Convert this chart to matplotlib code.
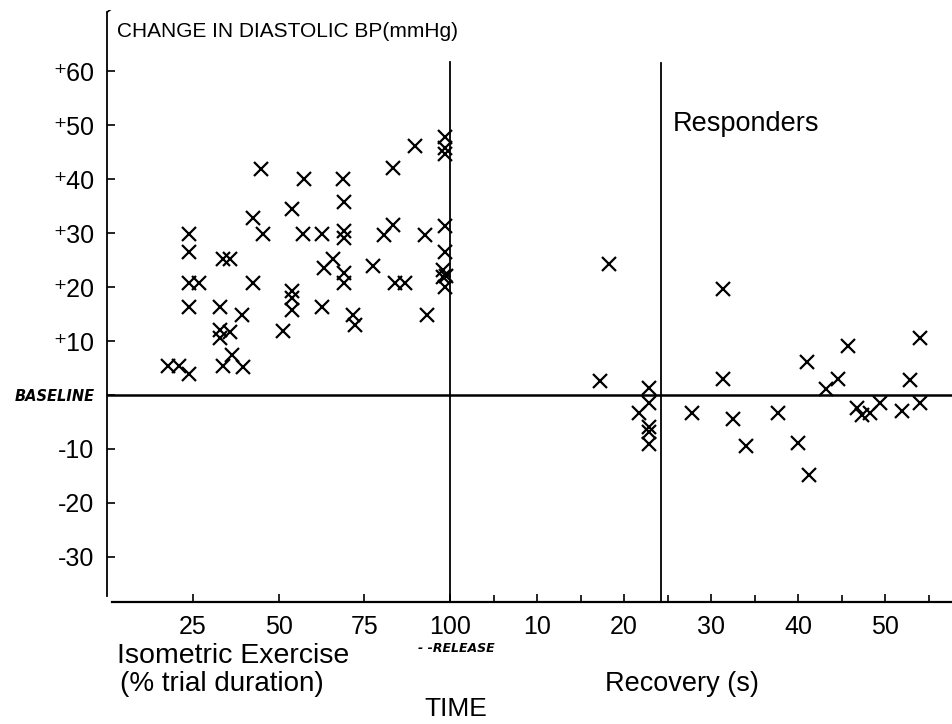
import numpy as np
import matplotlib
matplotlib.use("Agg")
import matplotlib.pyplot as plt

# change in diastolic BP (mmHg) during the isometric grip, x = % of trial duration
exercise_pct = [17.9, 21.0, 24.0, 24.0, 24.0, 24.0, 26.9, 24.0, 33.7, 35.9,
                32.9, 33.0, 33.0, 35.9, 36.4, 33.7, 39.5, 39.3, 42.5, 42.7,
                45.4, 44.8, 51.2, 54.0, 54.0, 54.0, 54.0, 57.5, 57.2, 62.8,
                62.8, 63.3, 65.8, 68.9, 69.1, 69.0, 69.0, 69.0, 69.0, 71.8,
                72.3, 77.6, 80.8, 83.5, 83.3, 84.0, 86.9, 89.8, 92.7, 93.2,
                98.5, 98.5, 98.5, 98.5, 98.5, 98.0, 98.0, 98.7, 98.5]
exercise_bp = [5.4, 5.4, 3.9, 29.9, 26.6, 20.7, 20.7, 16.4, 25.2, 25.2,
               16.4, 12.1, 10.5, 11.7, 7.4, 5.4, 5.1, 14.8, 20.8, 32.8,
               29.9, 41.9, 11.9, 34.5, 19.2, 17.9, 15.8, 40.0, 29.9, 29.9,
               16.4, 23.5, 25.2, 40.0, 35.7, 30.5, 29.1, 22.6, 20.8, 14.8,
               13.0, 23.9, 29.7, 31.5, 42.1, 20.8, 20.8, 46.2, 29.7, 14.8,
               47.9, 45.8, 44.7, 31.4, 26.6, 23.1, 21.9, 22.0, 20.0]

# change in diastolic BP (mmHg) after release, x = seconds of recovery
recovery_s = [17.2, 18.3, 21.7, 22.9, 22.9, 22.9, 22.9, 22.9, 27.8, 31.4,
              31.4, 32.5, 34.0, 37.7, 40.0, 41.0, 41.2, 43.2, 44.6, 45.7,
              46.8, 47.3, 48.3, 49.4, 52.0, 52.9, 54.0, 54.0]
recovery_bp = [2.5, 24.3, -3.3, 1.2, -1.5, -5.9, -6.8, -9.1, -3.3, 19.6,
               2.9, -4.5, -9.5, -3.3, -9.0, 6.2, -14.8, 1.1, 2.9, 9.1,
               -2.5, -3.7, -3.3, -1.5, -2.9, 2.8, 10.5, -1.4]

y_ticks = [60, 50, 40, 30, 20, 10, 0, -10, -20, -30]
y_labels = ["⁺60", "⁺50", "⁺40", "⁺30", "⁺20", "⁺10", "BASELINE", "-10", "-20", "-30"]
pct_ticks = [25, 50, 75, 100]
rec_ticks = [10, 20, 30, 40, 50]
responder_cut = 24.3   # seconds

# recovery seconds are squeezed onto the same axis after the 100% mark
SEC = 2.536
def rec_pos(s):
    return 100 + np.asarray(s, dtype=float) * SEC

plt.rcParams["font.family"] = ["Liberation Sans", "DejaVu Sans"]

fig = plt.figure(figsize=(9.53, 7.24), dpi=100)
ax = fig.add_axes([107 / 953, 122 / 724, 846 / 953, 592 / 724])
ax.set_xlim(0, 246.6)
ax.set_ylim(-38.4, 71.4)

for s in ["top", "right"]:
    ax.spines[s].set_visible(False)
ax.spines["left"].set_linewidth(1.3)
ax.spines["bottom"].set_linewidth(1.6)
ax.spines["left"].set_bounds(-37.3, 71.0)
ax.spines["bottom"].set_bounds(1.6, 246.6)

# baseline and the two vertical separators
ax.axhline(0, color="black", lw=1.8)
ax.plot([100, 100], [-38.4, 61.8], color="black", lw=1.3)
ax.plot([rec_pos(responder_cut)] * 2, [-38.4, 61.6], color="black", lw=1.3)
ax.plot([0, 1.3], [71.0, 71.6], color="black", lw=1.2)

ax.plot(exercise_pct, exercise_bp, "x", color="black", ms=10, mew=1.6)
ax.plot(rec_pos(recovery_s), recovery_bp, "x", color="black", ms=10, mew=1.6)

ax.set_yticks(y_ticks)
ax.set_yticklabels(y_labels)
ax.tick_params(axis="y", direction="in", length=6, width=1.2, pad=9, labelsize=18)
for lab in ax.get_yticklabels():
    if lab.get_text() == "BASELINE":
        lab.set_fontsize(10.5)
        lab.set_fontweight("bold")
        lab.set_fontstyle("italic")
        lab.set_family("DejaVu Sans")

x_pos = list(pct_ticks) + list(rec_pos(rec_ticks))
x_lab = [str(t) for t in pct_ticks] + [str(t) for t in rec_ticks]
ax.set_xticks(x_pos)
ax.set_xticklabels(x_lab)
ax.set_xticks(rec_pos([5, 15, 25, 35, 45, 55]), minor=True)
ax.tick_params(axis="x", which="major", direction="in", length=6, width=1.2, pad=9, labelsize=18)
ax.tick_params(axis="x", which="minor", direction="in", length=5, width=1.2)

ax.text(3.0, 67.5, "CHANGE IN DIASTOLIC BP(mmHg)", fontsize=15, va="center", ha="left")
ax.text(rec_pos(25.6), 50.3, "Responders", fontsize=19.5, va="center", ha="left")

fig.text(117 / 953, 1 - 656 / 724, "Isometric Exercise", fontsize=20.5, va="center", ha="left")
fig.text(120 / 953, 1 - 684 / 724, "(% trial duration)", fontsize=20, va="center", ha="left")
fig.text(418 / 953, 1 - 648 / 724, "- -RELEASE", fontsize=9, fontweight="bold",
         fontstyle="italic", family="DejaVu Sans", va="center", ha="left")
fig.text(456 / 953, 1 - 709 / 724, "TIME", fontsize=19, va="center", ha="center")
fig.text(605 / 953, 1 - 684 / 724, "Recovery (s)", fontsize=19.5, va="center", ha="left")

fig.savefig("out.png", dpi=100)
